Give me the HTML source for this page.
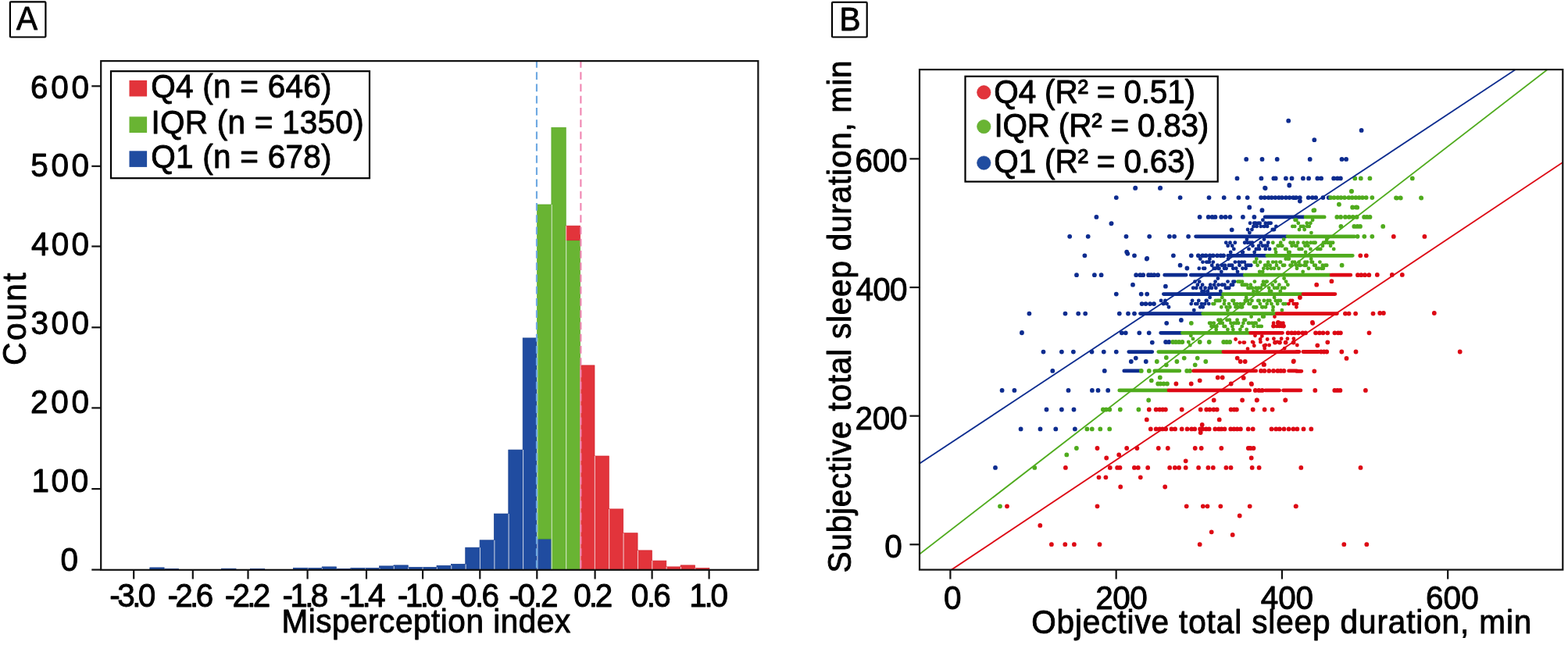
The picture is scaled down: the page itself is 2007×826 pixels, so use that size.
<!DOCTYPE html>
<html lang="en">
<head>
<meta charset="utf-8">
<title>Misperception index and sleep duration</title>
<style>
html,body{margin:0;padding:0;background:#fff;}
body{width:2007px;height:826px;overflow:hidden;}
svg{display:block;}
svg text{font-family:"Liberation Sans", Arial, Helvetica, sans-serif;fill:#000;stroke:#000;stroke-width:0.9px;stroke-linejoin:round;white-space:pre;}
</style>
</head>
<body>
<svg width="2007" height="826" viewBox="0 0 2007 826">
<rect width="2007" height="826" fill="#fff"/>
<g>
<rect x="191.83" y="726.90" width="18.36" height="3.00" fill="#204ca0" stroke="#163d8c" stroke-width="0.7"/>
<rect x="210.19" y="728.40" width="18.36" height="1.50" fill="#204ca0" stroke="#163d8c" stroke-width="0.7"/>
<rect x="283.63" y="728.20" width="18.36" height="1.70" fill="#204ca0" stroke="#163d8c" stroke-width="0.7"/>
<rect x="320.35" y="728.40" width="18.36" height="1.50" fill="#204ca0" stroke="#163d8c" stroke-width="0.7"/>
<rect x="375.43" y="727.30" width="18.36" height="2.60" fill="#204ca0" stroke="#163d8c" stroke-width="0.7"/>
<rect x="393.79" y="727.60" width="18.36" height="2.30" fill="#204ca0" stroke="#163d8c" stroke-width="0.7"/>
<rect x="412.15" y="725.90" width="18.36" height="4.00" fill="#204ca0" stroke="#163d8c" stroke-width="0.7"/>
<rect x="430.51" y="728.40" width="18.36" height="1.50" fill="#204ca0" stroke="#163d8c" stroke-width="0.7"/>
<rect x="448.87" y="727.50" width="18.36" height="2.40" fill="#204ca0" stroke="#163d8c" stroke-width="0.7"/>
<rect x="467.23" y="727.50" width="18.36" height="2.40" fill="#204ca0" stroke="#163d8c" stroke-width="0.7"/>
<rect x="485.59" y="724.90" width="18.36" height="5.00" fill="#204ca0" stroke="#163d8c" stroke-width="0.7"/>
<rect x="503.95" y="723.90" width="18.36" height="6.00" fill="#204ca0" stroke="#163d8c" stroke-width="0.7"/>
<rect x="522.31" y="726.40" width="18.36" height="3.50" fill="#204ca0" stroke="#163d8c" stroke-width="0.7"/>
<rect x="540.67" y="726.40" width="18.36" height="3.50" fill="#204ca0" stroke="#163d8c" stroke-width="0.7"/>
<rect x="559.03" y="724.30" width="18.36" height="5.60" fill="#204ca0" stroke="#163d8c" stroke-width="0.7"/>
<rect x="577.39" y="722.40" width="18.36" height="7.50" fill="#204ca0" stroke="#163d8c" stroke-width="0.7"/>
<rect x="595.75" y="701.20" width="18.36" height="28.70" fill="#204ca0" stroke="#163d8c" stroke-width="0.7"/>
<rect x="614.11" y="691.80" width="18.36" height="38.10" fill="#204ca0" stroke="#163d8c" stroke-width="0.7"/>
<rect x="632.47" y="658.00" width="18.36" height="71.90" fill="#204ca0" stroke="#163d8c" stroke-width="0.7"/>
<rect x="650.83" y="576.10" width="18.36" height="153.80" fill="#204ca0" stroke="#163d8c" stroke-width="0.7"/>
<rect x="669.19" y="432.90" width="18.36" height="297.00" fill="#204ca0" stroke="#163d8c" stroke-width="0.7"/>
<rect x="687.55" y="690.10" width="18.36" height="39.80" fill="#204ca0" stroke="#163d8c" stroke-width="0.7"/>
<rect x="687.55" y="262.00" width="18.36" height="428.10" fill="#69b433" stroke="#56a524" stroke-width="0.7"/>
<rect x="705.91" y="163.30" width="18.36" height="566.60" fill="#69b433" stroke="#56a524" stroke-width="0.7"/>
<rect x="724.27" y="307.70" width="18.36" height="422.20" fill="#69b433" stroke="#56a524" stroke-width="0.7"/>
<rect x="724.27" y="289.20" width="18.36" height="18.50" fill="#e2343b" stroke="#d2222b" stroke-width="0.7"/>
<rect x="742.63" y="467.90" width="18.36" height="262.00" fill="#e2343b" stroke="#d2222b" stroke-width="0.7"/>
<rect x="760.99" y="584.00" width="18.36" height="145.90" fill="#e2343b" stroke="#d2222b" stroke-width="0.7"/>
<rect x="779.35" y="651.90" width="18.36" height="78.00" fill="#e2343b" stroke="#d2222b" stroke-width="0.7"/>
<rect x="797.71" y="682.70" width="18.36" height="47.20" fill="#e2343b" stroke="#d2222b" stroke-width="0.7"/>
<rect x="816.07" y="704.90" width="18.36" height="25.00" fill="#e2343b" stroke="#d2222b" stroke-width="0.7"/>
<rect x="834.43" y="718.10" width="18.36" height="11.80" fill="#e2343b" stroke="#d2222b" stroke-width="0.7"/>
<rect x="852.79" y="725.90" width="18.36" height="4.00" fill="#e2343b" stroke="#d2222b" stroke-width="0.7"/>
<rect x="871.15" y="723.90" width="18.36" height="6.00" fill="#e2343b" stroke="#d2222b" stroke-width="0.7"/>
<rect x="889.51" y="727.60" width="18.36" height="2.30" fill="#e2343b" stroke="#d2222b" stroke-width="0.7"/>
</g>
<path d="M210.55 728.4V729.9M394.15 727.6V729.9M412.45 727.6V729.9M430.85 728.4V729.9M449.25 728.4V729.9M467.55 727.5V729.9M485.95 727.5V729.9M504.25 724.9V729.9M522.65 726.4V729.9M541.05 726.4V729.9M559.35 726.4V729.9M577.75 724.3V729.9M596.15 722.4V729.9M614.45 701.2V729.9M632.85 691.8V729.9M651.15 658.0V729.9M669.55 576.1V729.9M687.85 432.9V729.9M706.25 262.0V729.9M724.65 289.2V729.9M742.95 467.9V729.9M761.35 584.0V729.9M779.65 651.9V729.9M798.05 682.7V729.9M816.45 704.9V729.9M834.75 718.1V729.9M853.15 725.9V729.9M871.45 725.9V729.9M889.85 727.6V729.9" stroke="#fff" stroke-opacity="0.7" stroke-width="1.15" fill="none"/>
<line x1="686.95" y1="77.1" x2="686.95" y2="729.8" stroke="#6ea9e2" stroke-width="2.1" stroke-dasharray="9.6 5.65"/>
<line x1="743.4" y1="77.1" x2="743.4" y2="729.8" stroke="#f086b2" stroke-width="2.1" stroke-dasharray="9.6 5.65"/>
<rect x="129.2" y="78.1" width="841.20" height="651.70" fill="none" stroke="#111" stroke-width="2.2"/>
<line x1="117.3" y1="729.60" x2="129.2" y2="729.60" stroke="#111" stroke-width="2.2"/>
<line x1="117.3" y1="626.10" x2="129.2" y2="626.10" stroke="#111" stroke-width="2.2"/>
<line x1="117.3" y1="522.40" x2="129.2" y2="522.40" stroke="#111" stroke-width="2.2"/>
<line x1="117.3" y1="419.30" x2="129.2" y2="419.30" stroke="#111" stroke-width="2.2"/>
<line x1="117.3" y1="315.50" x2="129.2" y2="315.50" stroke="#111" stroke-width="2.2"/>
<line x1="117.3" y1="212.80" x2="129.2" y2="212.80" stroke="#111" stroke-width="2.2"/>
<line x1="117.3" y1="110.30" x2="129.2" y2="110.30" stroke="#111" stroke-width="2.2"/>
<line x1="171.20" y1="729.8" x2="171.20" y2="741.5" stroke="#111" stroke-width="2.2"/>
<line x1="246.80" y1="729.8" x2="246.80" y2="741.5" stroke="#111" stroke-width="2.2"/>
<line x1="317.50" y1="729.8" x2="317.50" y2="741.5" stroke="#111" stroke-width="2.2"/>
<line x1="393.60" y1="729.8" x2="393.60" y2="741.5" stroke="#111" stroke-width="2.2"/>
<line x1="469.00" y1="729.8" x2="469.00" y2="741.5" stroke="#111" stroke-width="2.2"/>
<line x1="541.10" y1="729.8" x2="541.10" y2="741.5" stroke="#111" stroke-width="2.2"/>
<line x1="614.30" y1="729.8" x2="614.30" y2="741.5" stroke="#111" stroke-width="2.2"/>
<line x1="687.30" y1="729.8" x2="687.30" y2="741.5" stroke="#111" stroke-width="2.2"/>
<line x1="761.60" y1="729.8" x2="761.60" y2="741.5" stroke="#111" stroke-width="2.2"/>
<line x1="834.60" y1="729.8" x2="834.60" y2="741.5" stroke="#111" stroke-width="2.2"/>
<line x1="907.60" y1="729.8" x2="907.60" y2="741.5" stroke="#111" stroke-width="2.2"/>
<rect x="12.9" y="2.4" width="45.5" height="45.1" rx="1" fill="#fff" stroke="#000" stroke-width="2.2"/>
<rect x="142" y="91.2" width="331" height="137" fill="#fff" stroke="#000" stroke-width="2.2"/>
<rect x="165.5" y="102.9" width="22.6" height="20.6" fill="#e2343b"/>
<rect x="165.5" y="149.4" width="22.6" height="20.6" fill="#69b433"/>
<rect x="165.5" y="193.3" width="22.6" height="20.6" fill="#204ca0"/>
<clipPath id="cb"><rect x="1177.0" y="89.1" width="823.30" height="640.50"/></clipPath>
<path d="M1649.2 154.7h0M1742.6 166.9h0M1682.3 179.2h0M1619.6 241.0h0M1650.3 237.0h0M1663.9 257.5h0M1599.2 265.5h0M1615.5 269.2h0M1595.2 203.9h0M1615.5 203.9h0M1634.7 203.9h0M1676.7 203.9h0M1717.5 203.9h0M1723.1 203.9h0M1583.5 228.4h0M1614.4 228.4h0M1630.4 228.4h0M1632.7 228.4h0M1645.9 228.4h0M1653.5 228.4h0M1667.9 228.4h0M1675.1 228.4h0M1686.3 228.4h0M1691.1 228.4h0M1707.1 228.4h0M1711.9 228.4h0M1715.9 228.4h0M1453.1 240.9h0M1484.9 240.9h0M1422.4 286.3h0M1442.2 322.7h0M1467.8 331.5h0M1428.8 253.2h0M1510.6 253.2h0M1547.5 253.2h0M1566.7 253.2h0M1585.4 253.2h0M1596.7 253.2h0M1614.1 253.2h0M1618.7 253.2h0M1623.7 253.2h0M1627.7 253.2h0M1632.3 253.2h0M1636.9 253.2h0M1640.9 253.2h0M1645.9 253.2h0M1650.5 253.2h0M1655.3 253.2h0M1659.0 253.2h0M1663.8 253.2h0M1674.7 253.2h0M1679.9 253.2h0M1684.2 253.2h0M1693.4 253.2h0M1700.7 253.2h0M1403.4 277.9h0M1535.6 277.9h0M1546.7 277.9h0M1551.6 277.9h0M1555.5 277.9h0M1563.2 277.9h0M1568.6 277.9h0M1574.4 277.9h0M1590.9 277.9h0M1605.4 277.9h0M1369.2 302.8h0M1392.7 302.8h0M1441.5 302.8h0M1471.2 302.8h0M1496.9 302.8h0M1503.1 302.8h0M1521.1 302.8h0M1388.4 327.3h0M1452.0 327.3h0M1501.9 327.3h0M1524.8 327.3h0M1533.8 327.3h0M1539.3 327.3h0M1543.5 327.3h0M1548.6 327.3h0M1552.7 327.3h0M1558.0 327.3h0M1562.5 327.3h0M1566.1 327.3h0M1443.3 324.8h0M1468.2 331.0h0M1378.0 352.2h0M1400.9 352.2h0M1409.6 352.2h0M1454.2 352.2h0M1459.4 352.2h0M1463.2 352.2h0M1470.1 352.2h0M1473.5 352.2h0M1477.3 352.2h0M1482.1 352.2h0M1428.8 376.6h0M1460.7 376.6h0M1468.2 376.6h0M1317.4 401.6h0M1363.5 401.6h0M1380.2 401.6h0M1389.2 401.6h0M1432.8 401.6h0M1444.0 401.6h0M1452.0 401.6h0M1307.9 426.3h0M1435.8 426.3h0M1440.8 426.3h0M1458.3 426.3h0M1470.7 426.3h0M1453.3 240.7h0M1485.2 240.7h0M1619.1 240.7h0M1650.3 237.5h0M1599.2 265.7h0M1615.4 269.4h0M1422.6 286.1h0M1576.7 294.3h0M1450.0 364.7h0M1491.9 366.7h0M1510.6 339.7h0M1519.4 343.5h0M1493.2 413.8h0M1511.9 410.0h0M1461.6 389.1h0M1466.5 389.1h0M1472.0 389.1h0M1477.0 389.1h0M1335.5 450.6h0M1358.9 450.6h0M1373.9 450.6h0M1397.5 450.6h0M1412.8 450.6h0M1428.8 450.6h0M1347.3 474.9h0M1413.8 474.9h0M1282.6 499.9h0M1298.4 499.9h0M1367.5 499.9h0M1397.9 499.9h0M1405.5 499.9h0M1418.2 499.9h0M1339.5 524.5h0M1358.9 524.5h0M1374.5 524.5h0M1308.0 426.0h0M1474.8 438.6h0M1447.8 463.0h0M1453.8 458.6h0M1466.8 463.0h0M1492.1 438.0h0M1496.3 438.0h0M1306.6 549.4h0M1331.5 549.4h0M1351.3 549.4h0M1375.9 549.4h0M1274.0 598.9h0" stroke="#0d2c8f" stroke-width="5.8" stroke-linecap="round" fill="none"/>
<path d="M1597.1 294.0h0M1599.4 298.1h0M1600.1 285.8h0M1602.4 294.0h0M1604.5 289.9h0M1605.3 285.8h0M1607.2 285.8h0M1608.6 289.9h0M1610.8 285.8h0M1612.6 285.8h0M1613.8 289.9h0M1616.4 281.7h0M1618.1 289.9h0M1619.8 285.8h0M1622.1 289.9h0M1623.6 285.8h0M1625.3 285.8h0M1626.6 285.8h0M1628.8 294.0h0M1630.0 294.0h0M1631.0 294.0h0M1633.4 289.9h0M1569.3 310.7h0M1571.7 314.8h0M1574.5 310.7h0M1575.2 323.0h0M1577.2 314.8h0M1579.3 318.9h0M1580.8 310.7h0M1590.2 323.0h0M1590.9 323.0h0M1593.2 310.7h0M1595.9 306.6h0M1597.0 310.7h0M1598.5 318.9h0M1599.9 310.7h0M1602.8 310.7h0M1603.5 314.8h0M1605.7 323.0h0M1607.8 318.9h0M1609.1 318.9h0M1611.2 314.8h0M1611.9 318.9h0M1613.8 310.7h0M1616.2 314.8h0M1618.0 306.6h0M1619.6 314.8h0M1619.8 318.9h0M1622.1 314.8h0M1623.2 310.7h0M1625.0 318.9h0M1534.8 343.8h0M1536.3 331.5h0M1539.5 335.6h0M1540.3 343.8h0M1542.1 343.8h0M1544.3 335.6h0M1545.9 335.6h0M1547.8 335.6h0M1548.4 331.5h0M1551.2 339.7h0M1552.8 335.6h0M1553.7 343.8h0M1555.6 343.8h0M1558.4 339.7h0M1559.5 343.8h0M1560.5 343.8h0M1563.3 347.9h0M1564.1 339.7h0M1567.0 343.8h0M1567.8 339.7h0M1569.6 343.8h0M1572.1 331.5h0M1572.9 339.7h0M1575.1 339.7h0M1577.1 339.7h0M1578.3 343.8h0M1580.9 335.6h0M1582.2 343.8h0M1584.0 347.9h0M1585.6 335.6h0M1586.5 339.7h0M1589.5 335.6h0M1590.5 343.8h0M1592.9 335.6h0M1594.6 343.8h0M1594.8 339.7h0M1596.6 339.7h0M1598.8 339.7h0M1601.2 339.7h0M1527.2 368.8h0M1529.5 360.6h0M1531.2 368.8h0M1532.9 364.7h0M1535.2 360.6h0M1537.0 368.8h0M1538.5 372.9h0M1539.1 364.7h0M1541.1 372.9h0M1542.6 368.8h0M1545.7 372.9h0M1545.9 372.9h0M1547.8 368.8h0M1549.3 364.7h0M1551.0 368.8h0M1554.2 364.7h0M1555.6 360.6h0M1556.3 368.8h0M1558.9 356.5h0M1559.6 364.7h0M1562.3 372.9h0M1564.2 364.7h0M1564.7 364.7h0M1567.4 364.7h0M1568.8 368.8h0M1571.1 368.8h0M1571.5 360.6h0M1573.2 368.8h0M1575.8 364.7h0M1578.1 364.7h0M1578.5 360.6h0M1580.2 360.6h0M1486.1 385.0h0M1489.0 389.1h0M1489.5 389.1h0M1491.5 385.0h0M1493.6 389.1h0M1496.0 393.2h0M1524.7 389.1h0M1526.1 385.0h0M1528.3 397.3h0M1530.3 389.1h0M1532.4 389.1h0M1534.3 385.0h0M1536.2 393.2h0M1538.0 389.1h0M1539.7 393.2h0M1542.1 389.1h0M1543.8 385.0h0M1544.6 385.0h0M1547.2 389.1h0M1548.6 380.9h0" stroke="#0d2c8f" stroke-width="4.9" stroke-linecap="round" fill="none"/>
<path d="M1619.1 277.9H1669.0M1530.6 302.8H1646.5M1571.7 327.3H1620.3M1490.7 352.2H1518.1M1524.3 352.2H1591.7M1489.4 376.6H1564.2M1459.5 401.6H1538.1M1485.7 426.3H1511.9M1444.8 450.6H1474.8M1438.8 474.9H1458.8" stroke="#0d2c8f" stroke-width="4.8" stroke-linecap="round" fill="none"/>
<path d="M1734.3 228.4h0M1741.8 228.4h0M1753.4 228.4h0M1807.8 228.4h0M1729.8 245.0h0M1714.0 261.8h0M1731.1 265.5h0M1735.9 265.5h0M1682.3 269.2h0M1703.2 253.2h0M1707.6 253.2h0M1712.3 253.2h0M1716.4 253.2h0M1721.0 253.2h0M1726.4 253.2h0M1730.8 253.2h0M1735.3 253.2h0M1739.7 253.2h0M1743.9 253.2h0M1748.7 253.2h0M1756.3 253.2h0M1711.3 277.9h0M1716.1 277.9h0M1721.9 277.9h0M1726.9 277.9h0M1731.7 277.9h0M1736.6 277.9h0M1746.1 277.9h0M1749.7 277.9h0M1753.5 277.9h0M1737.6 302.8h0M1746.3 302.8h0M1756.3 302.8h0M1713.9 261.7h0M1681.4 269.4h0M1730.1 245.0h0M1717.6 339.7h0M1524.8 413.8h0M1731.2 265.7h0M1737.2 265.7h0M1716.4 289.9h0M1733.3 289.9h0M1737.4 289.9h0M1741.0 289.9h0M1787.8 253.6h0M1792.8 253.6h0M1819.2 253.6h0M1770.2 289.9h0M1787.0 253.5h0M1792.6 253.5h0M1819.0 253.5h0M1460.8 474.9h0M1470.8 474.9h0M1519.2 474.9h0M1523.2 474.9h0M1411.9 524.5h0M1415.8 524.5h0M1420.3 524.5h0M1433.8 524.5h0M1457.4 524.5h0M1501.2 438.0h0M1505.0 438.0h0M1509.1 438.0h0M1513.3 438.0h0M1535.7 438.0h0M1547.7 438.0h0M1566.2 438.0h0M1570.1 438.0h0M1574.2 438.0h0M1480.8 463.0h0M1492.8 458.0h0M1492.8 467.3h0M1506.4 463.0h0M1515.7 458.6h0M1532.7 458.6h0M1529.7 467.3h0M1543.3 463.0h0M1473.8 487.3h0M1484.8 483.5h0M1470.2 512.5h0M1482.2 491.5h0M1485.3 491.5h0M1489.5 491.5h0M1494.0 491.5h0M1391.4 549.4h0M1397.8 549.4h0M1408.3 549.4h0M1420.2 549.4h0M1377.9 574.0h0M1365.3 582.4h0M1324.3 598.9h0M1280.0 648.3h0" stroke="#4fab1d" stroke-width="5.8" stroke-linecap="round" fill="none"/>
<path d="M1654.4 289.9h0M1657.2 289.9h0M1657.6 281.7h0M1659.3 281.7h0M1661.8 285.8h0M1663.0 294.0h0M1665.0 289.9h0M1667.4 289.9h0M1668.6 289.9h0M1669.7 294.0h0M1672.8 285.8h0M1673.3 289.9h0M1675.7 289.9h0M1677.4 285.8h0M1678.4 298.1h0M1680.1 281.7h0M1629.3 310.7h0M1632.3 318.9h0M1633.1 323.0h0M1635.6 314.8h0M1636.8 314.8h0M1639.2 310.7h0M1640.4 314.8h0M1641.3 314.8h0M1643.1 306.6h0M1645.1 318.9h0M1646.6 318.9h0M1649.2 323.0h0M1650.7 323.0h0M1651.6 310.7h0M1653.6 314.8h0M1655.5 310.7h0M1658.1 314.8h0M1659.7 314.8h0M1661.2 310.7h0M1662.6 318.9h0M1664.2 318.9h0M1666.3 318.9h0M1668.6 310.7h0M1670.5 314.8h0M1671.1 323.0h0M1673.0 310.7h0M1674.4 314.8h0M1677.4 318.9h0M1677.7 310.7h0M1681.0 310.7h0M1682.5 310.7h0M1683.6 310.7h0M1686.2 318.9h0M1687.0 318.9h0M1689.0 318.9h0M1690.3 318.9h0M1693.0 314.8h0M1694.0 310.7h0M1696.4 310.7h0M1698.2 306.6h0M1699.6 310.7h0M1701.2 310.7h0M1703.1 314.8h0M1703.7 310.7h0M1706.1 310.7h0M1707.2 318.9h0M1605.7 335.6h0M1607.3 335.6h0M1608.3 331.5h0M1609.6 339.7h0M1612.2 347.9h0M1613.0 335.6h0M1616.2 347.9h0M1617.4 343.8h0M1619.1 339.7h0M1621.3 339.7h0M1622.4 343.8h0M1623.2 335.6h0M1625.6 339.7h0M1627.0 343.8h0M1629.2 335.6h0M1630.9 343.8h0M1633.3 335.6h0M1634.0 339.7h0M1636.8 343.8h0M1638.4 335.6h0M1639.1 335.6h0M1642.0 339.7h0M1642.5 339.7h0M1644.1 339.7h0M1645.7 331.5h0M1648.3 331.5h0M1649.9 331.5h0M1651.5 339.7h0M1653.3 339.7h0M1654.3 335.6h0M1657.0 335.6h0M1659.2 339.7h0M1660.0 343.8h0M1662.6 335.6h0M1663.1 339.7h0M1664.7 339.7h0M1667.7 347.9h0M1669.4 339.7h0M1670.5 335.6h0M1671.7 339.7h0M1673.1 335.6h0M1675.0 343.8h0M1678.2 331.5h0M1678.6 335.6h0M1680.0 335.6h0M1682.2 339.7h0M1683.8 339.7h0M1685.3 343.8h0M1687.8 343.8h0M1689.4 335.6h0M1691.5 343.8h0M1692.9 339.7h0M1693.8 343.8h0M1696.2 339.7h0M1698.2 339.7h0M1584.4 360.6h0M1586.3 360.6h0M1587.4 360.6h0M1589.8 364.7h0M1590.0 360.6h0M1592.2 364.7h0M1594.1 364.7h0M1595.9 364.7h0M1597.5 368.8h0M1599.8 368.8h0M1600.7 364.7h0M1602.9 368.8h0M1604.5 372.9h0M1605.9 360.6h0M1607.5 368.8h0M1609.1 372.9h0M1610.9 368.8h0M1613.7 368.8h0M1615.8 364.7h0M1617.0 360.6h0M1618.6 364.7h0M1620.9 360.6h0M1621.7 360.6h0M1624.2 368.8h0M1625.0 372.9h0M1627.1 372.9h0M1628.7 364.7h0M1631.1 368.8h0M1632.4 360.6h0M1634.1 368.8h0M1635.4 368.8h0M1637.4 364.7h0M1638.8 372.9h0M1641.0 368.8h0M1643.6 356.5h0M1644.2 368.8h0M1646.1 360.6h0M1648.4 364.7h0M1552.5 389.1h0M1554.2 389.1h0M1555.9 385.0h0M1557.6 385.0h0M1559.5 385.0h0M1561.4 385.0h0M1563.3 393.2h0M1564.3 380.9h0M1566.9 389.1h0M1567.4 385.0h0M1569.7 393.2h0M1571.4 397.3h0M1573.0 389.1h0M1574.3 393.2h0M1577.5 385.0h0M1579.0 385.0h0M1580.1 389.1h0M1581.5 393.2h0M1583.2 389.1h0M1584.7 393.2h0M1587.5 389.1h0M1588.2 393.2h0M1590.1 393.2h0M1591.6 389.1h0M1593.8 385.0h0M1595.2 380.9h0M1597.2 385.0h0M1598.5 389.1h0M1600.3 389.1h0M1602.5 385.0h0M1604.6 393.2h0M1605.9 393.2h0M1608.2 393.2h0M1610.3 385.0h0M1611.6 385.0h0M1612.9 389.1h0M1615.3 393.2h0M1616.4 393.2h0M1617.9 385.0h0M1620.0 393.2h0M1621.7 389.1h0M1622.7 385.0h0M1625.4 385.0h0M1627.5 389.1h0M1629.3 397.3h0M1629.6 393.2h0M1631.1 380.9h0M1632.8 385.0h0M1635.2 389.1h0M1636.3 385.0h0M1638.9 385.0h0M1640.9 397.3h0M1642.5 389.1h0M1643.5 389.1h0M1645.6 389.1h0M1548.1 413.8h0M1549.9 413.8h0M1550.5 417.9h0M1553.7 413.8h0M1554.2 417.9h0M1556.7 422.0h0M1557.4 417.9h0M1559.5 409.7h0M1561.4 413.8h0M1562.4 409.7h0M1564.7 413.8h0M1566.6 417.9h0M1568.2 417.9h0M1570.5 409.7h0M1571.4 422.0h0M1573.8 409.7h0M1575.5 413.8h0M1577.3 417.9h0M1578.3 422.0h0M1579.7 413.8h0M1582.4 413.8h0M1583.6 409.7h0M1585.2 413.8h0M1587.4 422.0h0M1589.7 417.9h0M1591.4 413.8h0M1592.5 409.7h0M1594.1 409.7h0M1595.7 422.0h0M1598.0 413.8h0M1598.9 413.8h0M1601.6 405.6h0M1602.5 413.8h0M1604.6 417.9h0M1605.7 413.8h0M1607.7 413.8h0M1609.7 417.9h0M1611.5 409.7h0M1612.5 417.9h0M1614.7 417.9h0M1616.1 405.6h0M1617.8 405.6h0M1521.3 438.0h0M1523.3 442.1h0M1524.3 429.8h0M1527.0 433.9h0" stroke="#4fab1d" stroke-width="4.9" stroke-linecap="round" fill="none"/>
<path d="M1671.0 277.9H1695.2M1648.0 302.8H1733.8M1621.8 327.3H1731.3M1593.2 352.2H1702.6M1565.7 376.6H1666.5M1539.6 401.6H1632.8M1513.4 426.3H1599.2M1482.8 450.6H1564.7M1477.8 474.9H1509.8M1432.8 499.9H1494.8" stroke="#4fab1d" stroke-width="4.8" stroke-linecap="round" fill="none"/>
<path d="M1741.3 327.3h0M1748.8 327.3h0M1737.9 352.2h0M1742.3 352.2h0M1747.0 352.2h0M1752.3 352.2h0M1721.9 401.6h0M1726.6 401.6h0M1735.1 401.6h0M1757.5 401.6h0M1648.6 426.3h0M1653.2 426.3h0M1657.5 426.3h0M1662.0 426.3h0M1667.3 426.3h0M1671.1 426.3h0M1684.0 426.3h0M1688.9 426.3h0M1693.5 426.3h0M1699.2 426.3h0M1708.4 426.3h0M1712.8 426.3h0M1715.9 426.3h0M1752.5 426.3h0M1685.2 364.7h0M1704.4 360.2h0M1680.2 413.8h0M1783.8 302.9h0M1823.4 302.9h0M1762.8 351.9h0M1781.8 351.9h0M1794.8 351.9h0M1766.2 401.0h0M1770.9 401.0h0M1835.8 401.0h0M1691.0 450.5h0M1694.7 450.5h0M1698.2 450.5h0M1717.3 450.5h0M1735.5 450.5h0M1868.7 450.5h0M1682.3 475.3h0M1683.3 499.9h0M1708.3 499.9h0M1711.9 499.9h0M1715.4 499.9h0M1747.9 499.9h0M1663.9 381.0h0M1630.0 417.6h0M1636.0 413.0h0M1643.0 417.6h0M1679.9 413.0h0M1686.3 442.3h0M1699.3 438.3h0M1723.5 458.9h0M1655.9 462.5h0M1618.0 466.9h0M1602.0 491.9h0M1609.0 512.3h0M1645.4 512.3h0M1614.0 474.9h0M1618.4 474.9h0M1624.3 474.9h0M1630.0 474.9h0M1635.4 474.9h0M1639.3 474.9h0M1643.4 474.9h0M1606.8 499.9h0M1611.3 499.9h0M1615.6 499.9h0M1470.8 524.5h0M1479.7 524.5h0M1484.3 524.5h0M1488.3 524.5h0M1491.9 524.5h0M1512.7 524.5h0M1536.7 524.5h0M1544.2 524.5h0M1548.4 524.5h0M1553.5 524.5h0M1557.7 524.5h0M1575.6 524.5h0M1579.7 524.5h0M1582.9 524.5h0M1603.7 524.5h0M1618.6 524.5h0M1628.6 524.5h0M1632.0 438.6h0M1638.0 438.6h0M1645.6 438.6h0M1655.6 438.6h0M1583.7 458.6h0M1587.7 463.0h0M1593.7 463.0h0M1617.6 466.9h0M1655.6 463.0h0M1505.4 491.5h0M1524.7 491.5h0M1535.7 487.3h0M1558.7 483.5h0M1564.7 483.5h0M1575.7 491.5h0M1591.7 483.9h0M1601.7 491.5h0M1553.7 512.5h0M1590.1 512.5h0M1608.7 512.5h0M1645.2 512.5h0M1472.8 549.4h0M1479.7 549.4h0M1484.3 549.4h0M1487.9 549.4h0M1492.2 549.4h0M1499.5 549.4h0M1504.1 549.4h0M1512.7 549.4h0M1519.6 549.4h0M1525.2 549.4h0M1529.2 549.4h0M1536.1 549.4h0M1539.4 549.4h0M1543.8 549.4h0M1547.7 549.4h0M1555.3 549.4h0M1560.1 549.4h0M1563.5 549.4h0M1567.5 549.4h0M1575.2 549.4h0M1579.4 549.4h0M1583.6 549.4h0M1587.9 549.4h0M1597.7 549.4h0M1603.7 549.4h0M1627.5 549.4h0M1633.2 549.4h0M1637.8 549.4h0M1643.5 549.4h0M1649.6 549.4h0M1655.4 549.4h0M1660.4 549.4h0M1538.7 544.0h0M1536.7 554.0h0M1467.8 537.4h0M1560.7 537.4h0M1432.2 582.4h0M1416.2 586.5h0M1601.7 586.5h0M1517.7 590.3h0M1406.5 611.3h0M1415.4 611.3h0M1459.8 611.3h0M1434.2 623.5h0M1491.2 623.5h0M1586.7 660.5h0M1331.3 672.9h0M1550.7 681.3h0M1577.7 684.9h0M1404.5 574.0h0M1442.2 574.0h0M1455.4 574.0h0M1482.8 574.0h0M1494.8 574.0h0M1529.7 574.0h0M1537.7 574.0h0M1563.3 574.0h0M1597.8 574.0h0M1600.6 574.0h0M1604.5 574.0h0M1363.9 598.9h0M1420.8 598.9h0M1430.1 598.9h0M1433.5 598.9h0M1451.9 598.9h0M1456.8 598.9h0M1469.2 598.9h0M1497.2 598.9h0M1503.8 598.9h0M1509.1 598.9h0M1517.7 598.9h0M1534.1 598.9h0M1546.4 598.9h0M1552.8 598.9h0M1569.4 598.9h0M1575.5 598.9h0M1602.7 598.9h0M1611.6 598.9h0M1289.0 648.3h0M1404.5 648.3h0M1518.7 648.3h0M1539.8 648.3h0M1545.5 648.3h0M1562.3 648.3h0M1599.7 648.3h0M1658.6 648.3h0M1345.9 697.2h0M1363.3 697.2h0M1374.9 697.2h0M1407.5 697.2h0M1535.7 697.2h0M1668.5 549.4h0M1678.3 549.4h0M1665.3 598.9h0M1741.5 598.9h0M1658.9 648.3h0M1720.3 697.2h0M1749.3 697.2h0" stroke="#dd0814" stroke-width="5.8" stroke-linecap="round" fill="none"/>
<path d="M1649.4 389.1h0M1651.7 385.0h0M1654.1 385.0h0M1655.8 389.1h0M1657.6 389.1h0M1659.4 393.2h0M1660.1 389.1h0M1630.1 413.8h0M1631.5 405.6h0M1634.0 417.9h0M1635.5 413.8h0M1637.6 417.9h0M1639.4 413.8h0M1640.5 417.9h0M1642.4 413.8h0M1603.1 437.9h0M1606.5 429.7h0M1613.4 437.9h0M1618.7 446.1h0M1619.8 442.0h0M1624.6 442.0h0M1630.4 433.8h0M1634.9 437.9h0M1640.1 433.8h0M1644.2 446.1h0M1647.9 433.8h0M1655.9 433.8h0M1660.3 442.0h0M1581.6 434.5h0M1586.8 438.6h0M1591.7 438.6h0M1592.9 438.6h0M1597.0 446.8h0M1604.2 438.6h0M1605.3 442.7h0M1613.1 434.5h0M1615.3 430.4h0M1617.9 442.7h0M1622.2 434.5h0" stroke="#dd0814" stroke-width="4.9" stroke-linecap="round" fill="none"/>
<path d="M1704.1 352.2H1728.8M1668.0 376.6H1708.9M1634.3 401.6H1711.4M1600.6 426.3H1641.5M1659.0 450.5H1662.9M1667.9 450.5H1687.9M1659.0 475.3H1665.9M1659.0 499.9H1664.9M1565.9 450.6H1660.0M1527.7 474.9H1607.7M1649.6 474.9H1660.0M1496.0 499.9H1599.7M1619.6 499.9H1637.6M1642.6 499.9H1660.0" stroke="#dd0814" stroke-width="4.8" stroke-linecap="round" fill="none"/>
<g clip-path="url(#cb)" stroke-width="1.8" fill="none">
<line x1="1176.8" y1="593.8" x2="1939.5" y2="89.3" stroke="#0d2c8f"/>
<line x1="1176.8" y1="709.7" x2="1980.4" y2="89.3" stroke="#4fab1d"/>
<line x1="1218" y1="729.6" x2="2000.6" y2="207.7" stroke="#dd0814"/>
</g>
<rect x="1177.0" y="89.1" width="823.30" height="640.50" fill="none" stroke="#111" stroke-width="2.2"/>
<line x1="1164.4" y1="697.30" x2="1177.0" y2="697.30" stroke="#111" stroke-width="2.2"/>
<line x1="1216.40" y1="729.6" x2="1216.40" y2="741.6" stroke="#111" stroke-width="2.2"/>
<line x1="1164.4" y1="532.66" x2="1177.0" y2="532.66" stroke="#111" stroke-width="2.2"/>
<line x1="1428.66" y1="729.6" x2="1428.66" y2="741.6" stroke="#111" stroke-width="2.2"/>
<line x1="1164.4" y1="368.02" x2="1177.0" y2="368.02" stroke="#111" stroke-width="2.2"/>
<line x1="1640.92" y1="729.6" x2="1640.92" y2="741.6" stroke="#111" stroke-width="2.2"/>
<line x1="1164.4" y1="203.38" x2="1177.0" y2="203.38" stroke="#111" stroke-width="2.2"/>
<line x1="1853.18" y1="729.6" x2="1853.18" y2="741.6" stroke="#111" stroke-width="2.2"/>
<rect x="1065" y="2.9" width="44.7" height="44.6" rx="1" fill="#fff" stroke="#000" stroke-width="2.2"/>
<rect x="1235.5" y="97.8" width="323.2" height="134.8" fill="#fff" stroke="#000" stroke-width="2.2"/>
<circle cx="1259.3" cy="118.3" r="8.7" fill="#e2343b" stroke="#d2222b" stroke-width="0.6"/>
<circle cx="1259.3" cy="162.1" r="8.7" fill="#69b433" stroke="#56a524" stroke-width="0.6"/>
<circle cx="1259.3" cy="208.6" r="8.7" fill="#204ca0" stroke="#163d8c" stroke-width="0.6"/>
<text transform="translate(77.55 730.60) scale(1 1.04)" font-size="40.5">0</text>
<text transform="translate(40.45 629.75) scale(1 1.04)" font-size="40.5" letter-spacing="2.650">100</text>
<text transform="translate(39.05 528.90) scale(1 1.04)" font-size="40.5" letter-spacing="3.700">200</text>
<text transform="translate(39.55 428.05) scale(1 1.04)" font-size="40.5" letter-spacing="3.450">300</text>
<text transform="translate(40.05 327.20) scale(1 1.04)" font-size="40.5" letter-spacing="3.200">400</text>
<text transform="translate(39.30 226.35) scale(1 1.04)" font-size="40.5" letter-spacing="3.575">500</text>
<text transform="translate(39.05 125.50) scale(1 1.04)" font-size="40.5" letter-spacing="3.700">600</text>
<text transform="translate(140.20 776.60) scale(1 1.04)" font-size="40.5" letter-spacing="-3.533">-3.0</text>
<text transform="translate(214.40 776.60) scale(1 1.04)" font-size="40.5" letter-spacing="-3.650">-2.6</text>
<text transform="translate(287.70 776.60) scale(1 1.04)" font-size="40.5" letter-spacing="-3.700">-2.2</text>
<text transform="translate(361.40 776.60) scale(1 1.04)" font-size="40.5" letter-spacing="-3.617">-1.8</text>
<text transform="translate(435.20 776.60) scale(1 1.04)" font-size="40.5" letter-spacing="-3.817">-1.4</text>
<text transform="translate(508.70 776.60) scale(1 1.04)" font-size="40.5" letter-spacing="-3.533">-1.0</text>
<text transform="translate(577.20 776.60) scale(1 1.04)" font-size="40.5" letter-spacing="-2.617">-0.6</text>
<text transform="translate(651.20 776.60) scale(1 1.04)" font-size="40.5" letter-spacing="-2.133">-0.2</text>
<text transform="translate(734.35 776.60) scale(1 1.04)" font-size="40.5" letter-spacing="-3.125">0.2</text>
<text transform="translate(807.85 776.60) scale(1 1.04)" font-size="40.5" letter-spacing="-2.650">0.6</text>
<text transform="translate(882.35 776.60) scale(1 1.04)" font-size="40.5" letter-spacing="-3.275">1.0</text>
<text transform="translate(360.40 809.60) scale(1 1.04)" font-size="40.5" letter-spacing="0.544">Misperception index</text>
<text transform="translate(33.40 467.65) rotate(-90) scale(1 1.04)" font-size="40.5" letter-spacing="2.513">Count</text>
<text transform="translate(21.10 38.40) scale(1 1.04)" font-size="40.5">A</text>
<text transform="translate(193.35 125.40) scale(1 1.04)" font-size="40.5" letter-spacing="0.255">Q4 (n = 646)</text>
<text transform="translate(193.50 171.00) scale(1 1.04)" font-size="40.5" letter-spacing="0.250">IQR (n = 1350)</text>
<text transform="translate(193.35 215.20) scale(1 1.04)" font-size="40.5" letter-spacing="0.255">Q1 (n = 678)</text>
<text transform="translate(1132.35 714.40) scale(1 1.04)" font-size="40.5">0</text>
<text transform="translate(1207.95 780.30) scale(1 1.04)" font-size="40.5">0</text>
<text transform="translate(1094.55 549.60) scale(1 1.04)" font-size="40.5" letter-spacing="-0.350">200</text>
<text transform="translate(1402.25 780.30) scale(1 1.04)" font-size="40.5" letter-spacing="-0.550">200</text>
<text transform="translate(1095.55 384.70) scale(1 1.04)" font-size="40.5" letter-spacing="-0.850">400</text>
<text transform="translate(1613.85 780.30) scale(1 1.04)" font-size="40.5" letter-spacing="-0.200">400</text>
<text transform="translate(1094.55 219.90) scale(1 1.04)" font-size="40.5" letter-spacing="-0.350">600</text>
<text transform="translate(1825.05 780.30) scale(1 1.04)" font-size="40.5" letter-spacing="0.050">600</text>
<text transform="translate(1320.15 811.00) scale(1 1.04)" font-size="40.5" letter-spacing="0.894">Objective total sleep duration, min</text>
<text transform="translate(1088.80 733.45) rotate(-90) scale(1 1.04)" font-size="40.5" letter-spacing="0.803">Subjective total sleep duration, min</text>
<text transform="translate(1074.40 39.00) scale(1 1.04)" font-size="40.5">B</text>
<text transform="translate(1272.35 131.70) scale(1 1.04)" font-size="40.5" letter-spacing="-0.169">Q4 (R² = 0.51)</text>
<text transform="translate(1272.50 175.30) scale(1 1.04)" font-size="40.5" letter-spacing="-0.211">IQR (R² = 0.83)</text>
<text transform="translate(1272.35 221.20) scale(1 1.04)" font-size="40.5" letter-spacing="-0.169">Q1 (R² = 0.63)</text>
</svg>
</body>
</html>
